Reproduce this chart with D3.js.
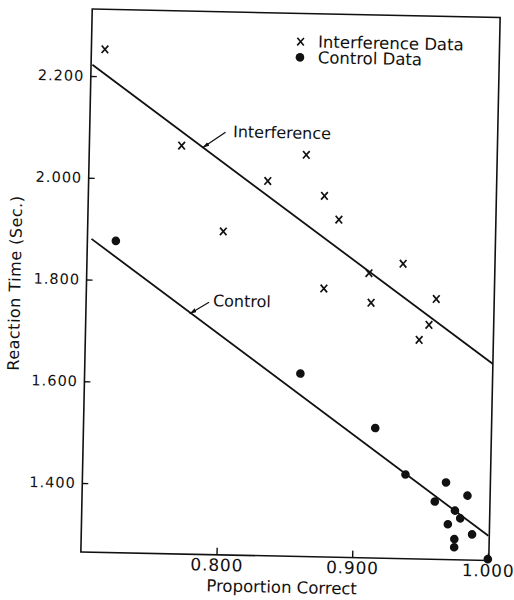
<!DOCTYPE html>
<html><head><meta charset="utf-8">
<script src="https://cdn.jsdelivr.net/npm/d3@7"></script>
<style>body{margin:0;background:#fff}</style>
</head><body>
<svg id="chart" width="514" height="600"></svg>
<script>
// ---- data ----
const interferenceX = [0.710,0.768,0.832,0.860,0.874,0.885,0.800,0.933,0.908,0.875,0.910,0.958,0.953,0.946];
const interferenceY = [2.253,2.067,2.001,2.054,1.974,1.928,1.900,1.844,1.824,1.792,1.766,1.776,1.725,1.695];
const controlX = [0.721,0.859,0.915,0.938,0.968,0.984,0.960,0.975,0.979,0.970,0.988,0.975,0.975,1.000];
const controlY = [1.877,1.624,1.520,1.430,1.416,1.391,1.378,1.361,1.346,1.334,1.315,1.305,1.289,1.267];
const interferenceLineX = [0.701, 1.0005];
const interferenceLineY = [2.222, 1.651];
const controlLineX = [0.703, 1.0];
const controlLineY = [1.880, 1.313];
const xTicks = [0.8, 0.9, 1.0];
const yTicks = [1.4, 1.6, 1.8, 2.0, 2.2];
const xDomain = [0.70, 1.0007];
const yDomain = [1.2645, 2.3316];
const legendLabels = ["Interference Data", "Control Data"];
const lineLabels = ["Interference", "Control"];
const xTitle = "Proportion Correct";
const yTitle = "Reaction Time (Sec.)";

// ---- drawing ----
const FONT = "'DejaVu Sans', sans-serif";
const svg = d3.select('#chart');
const frame = {left: 86.5, top: 13.25, right: 494.5, bottom: 556.25};
const x = d3.scaleLinear().domain(xDomain).range([frame.left, frame.right]);
const y = d3.scaleLinear().domain(yDomain).range([frame.bottom, frame.top]);

// the scanned figure is slightly rotated
const g = svg.append('g').attr('transform', 'rotate(1.2,290.5,284.75)');

svg.append('defs').append('marker')
  .attr('id', 'arrow').attr('viewBox', '0 0 10 6')
  .attr('refX', 10).attr('refY', 3)
  .attr('markerWidth', 7).attr('markerHeight', 4.5)
  .attr('markerUnits', 'userSpaceOnUse')
  .attr('orient', 'auto')
  .append('path').attr('d', 'M0,0L10,3L0,6z').attr('fill', '#111');

g.append('rect')
  .attr('x', frame.left).attr('y', frame.top)
  .attr('width', frame.right - frame.left).attr('height', frame.bottom - frame.top)
  .attr('fill', 'none').attr('stroke', '#111').attr('stroke-width', 1.6);

const yAxis = g.append('g').attr('transform', `translate(${frame.left},0)`)
  .call(d3.axisLeft(y).tickValues(yTicks).tickFormat(d3.format('.3f')).tickSize(-6).tickPadding(6.5));
yAxis.select('.domain').remove();
yAxis.selectAll('line').attr('stroke', '#111').attr('stroke-width', 1.4);
yAxis.selectAll('text').attr('fill', '#111').style('font-family', FONT)
  .style('font-size', '14.5px').style('letter-spacing', '1px');

const xAxis = g.append('g').attr('transform', `translate(0,${frame.bottom})`)
  .call(d3.axisBottom(x).tickValues(xTicks).tickFormat(d3.format('.3f')).tickSize(-7).tickPadding(4));
xAxis.select('.domain').remove();
xAxis.selectAll('line').attr('stroke', '#111').attr('stroke-width', 1.4);
xAxis.selectAll('text').attr('fill', '#111').style('font-family', FONT)
  .style('font-size', '17px').style('letter-spacing', '0.8px');

// regression lines
g.append('line')
  .attr('x1', x(interferenceLineX[0])).attr('y1', y(interferenceLineY[0]))
  .attr('x2', x(interferenceLineX[1])).attr('y2', y(interferenceLineY[1]))
  .attr('stroke', '#111').attr('stroke-width', 1.8);
g.append('line')
  .attr('x1', x(controlLineX[0])).attr('y1', y(controlLineY[0]))
  .attr('x2', x(controlLineX[1])).attr('y2', y(controlLineY[1]))
  .attr('stroke', '#111').attr('stroke-width', 1.8);

// data marks
const xMark = 'M-3.3,-3.8L3.3,3.8M3.3,-3.8L-3.3,3.8';
g.append('g').selectAll('path').data(d3.range(interferenceX.length)).join('path')
  .attr('transform', i => `translate(${x(interferenceX[i])},${y(interferenceY[i])})`)
  .attr('d', xMark).attr('fill', 'none').attr('stroke', '#111').attr('stroke-width', 1.7);
g.append('g').selectAll('circle').data(d3.range(controlX.length)).join('circle')
  .attr('cx', i => x(controlX[i])).attr('cy', i => y(controlY[i]))
  .attr('r', 4.3).attr('fill', '#111');

// line labels with leaders
function label(txt, tx, ty, lx1, ly1, lx2, ly2) {
  g.append('text').attr('x', x(tx)).attr('y', y(ty))
    .attr('dominant-baseline', 'central').attr('fill', '#111')
    .style('font-family', FONT).style('font-size', '16px').text(txt);
  g.append('line').attr('x1', x(lx1)).attr('y1', y(ly1)).attr('x2', x(lx2)).attr('y2', y(ly2))
    .attr('stroke', '#111').attr('stroke-width', 1.3).attr('marker-end', 'url(#arrow)');
}
label(lineLabels[0], 0.8057, 2.0964, 0.8001, 2.0949, 0.7834, 2.0635);
label(lineLabels[1], 0.7935, 1.7635, 0.7906, 1.7602, 0.7765, 1.737);

// legend
const leg = g.append('g').attr('transform', 'translate(295.5,41.5)');
leg.append('path').attr('d', xMark).attr('fill', 'none').attr('stroke', '#111').attr('stroke-width', 1.6);
leg.append('circle').attr('cx', -0.3).attr('cy', 15.7).attr('r', 4.3).attr('fill', '#111');
leg.selectAll('text').data(legendLabels).join('text')
  .attr('x', 17.5).attr('y', (d, i) => i * 15.7)
  .attr('dominant-baseline', 'central').attr('fill', '#111')
  .style('font-family', FONT).style('font-size', '16.5px').text(d => d);

// axis titles
g.append('text').attr('x', 288).attr('y', 593).attr('text-anchor', 'middle')
  .attr('fill', '#111').style('font-family', FONT).style('font-size', '16.5px').text(xTitle);
g.append('text').attr('transform', 'translate(15,288.8) rotate(-90)')
  .attr('text-anchor', 'middle').attr('dominant-baseline', 'central')
  .attr('fill', '#111').style('font-family', FONT).style('font-size', '16px')
  .style('letter-spacing', '0.5px').text(yTitle);
</script>
</body></html>
